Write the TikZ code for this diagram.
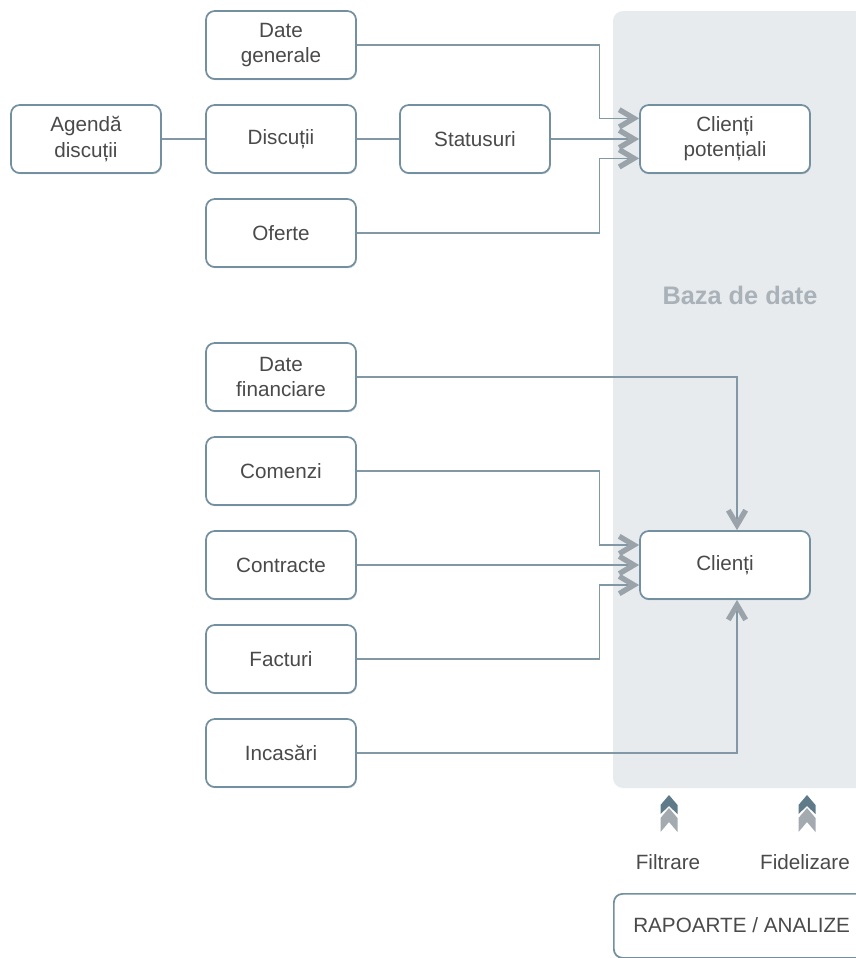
\documentclass[tikz,border=0pt]{standalone}
\usepackage{fontspec}
\setmainfont{Liberation Sans}
\usetikzlibrary{arrows.meta,shadows,calc}
\definecolor{boxc}{HTML}{7290A0}
\definecolor{linec}{HTML}{8298A5}
\definecolor{arrc}{HTML}{9AA3AA}
\definecolor{panelc}{HTML}{E8EBEE}
\definecolor{txtc}{HTML}{4A4A4A}
\definecolor{bazac}{HTML}{A9B2B9}
\definecolor{chevdark}{HTML}{5F7B89}
\definecolor{chevlight}{HTML}{A3ABB1}
\tikzset{
  px/.style={x=0.75pt,y=-0.75pt},
  stepbox/.style={draw=boxc, line width=1.3pt, rounded corners=6.5pt, fill=white,
    minimum width=112.5pt, minimum height=51pt, align=center, inner sep=0pt,
    text=txtc, font=\fontsize{15.5}{19}\selectfont,
    drop shadow={shadow xshift=0.6pt, shadow yshift=-0.9pt, opacity=0.18, fill=black}},
  widebox/.style={stepbox, minimum width=127.5pt},
  conn/.style={draw=linec, line width=0.9pt},
  arr/.style={conn, -{Straight Barb[length=11pt,width=13pt,line width=4pt,color=arrc]}},
  lbl/.style={text=txtc, font=\fontsize{15.5}{19}\selectfont, inner sep=0pt},
}
\begin{document}
\begin{tikzpicture}[px]
\useasboundingbox (0,0) rectangle (856,958);
\clip (0,0) rectangle (856,958);
% database panel
\fill[panelc, rounded corners=7.5pt] (613,11) rectangle (880,788);
\node[font=\bfseries\fontsize{19}{22}\selectfont, text=bazac] (baza) at (740,295) {Baza de date};

% boxes
\node[stepbox] (dg) at (281,45) {Date\\generale};
\node[stepbox] (ag) at (86,139) {Agendă\\discuții};
\node[stepbox] (di) at (281,139) {Discuții};
\node[stepbox] (st) at (475,139) {Statusuri};
\node[stepbox] (of) at (281,233) {Oferte};
\node[widebox] (cp) at (725,139) {Clienți\\potențiali};

\node[stepbox] (df) at (281,377) {Date\\financiare};
\node[stepbox] (co) at (281,471) {Comenzi};
\node[stepbox] (ct) at (281,565) {Contracte};
\node[stepbox] (fa) at (281,659) {Facturi};
\node[stepbox] (in) at (281,753) {Incasări};
\node[widebox] (cl) at (725,565) {Clienți};

% plain links
\draw[conn] (ag) -- (di);
\draw[conn] (di) -- (st);

% into Clienti potentiali
\draw[arr] (dg.east) -| ([xshift=-30pt,yshift=15.5pt]cp.west) -- ([yshift=15.5pt]cp.west);
\draw[arr] (st) -- (cp);
\draw[arr] (of.east) -| ([xshift=-30pt,yshift=-14.5pt]cp.west) -- ([yshift=-14.5pt]cp.west);

% into Clienti
\draw[arr] (df.east) -| ([xshift=9pt]cl.north);
\draw[arr] (co.east) -| ([xshift=-30pt,yshift=15pt]cl.west) -- ([yshift=15pt]cl.west);
\draw[arr] (ct) -- (cl);
\draw[arr] (fa.east) -| ([xshift=-30pt,yshift=-15pt]cl.west) -- ([yshift=-15pt]cl.west);
\draw[arr] (in.east) -| ([xshift=9pt]cl.south);

% double chevrons
\foreach \c in {669,807}{
  \fill[chevlight] (\c,808) -- (\c+8.5,818) -- (\c+8.5,832) -- (\c,822) -- (\c-8.5,832) -- (\c-8.5,818) -- cycle;
  \fill[chevdark] (\c,795) -- (\c+8.5,805) -- (\c+8.5,814) -- (\c,806) -- (\c-8.5,814) -- (\c-8.5,805) -- cycle;
}
\node[lbl] (fi) at (668,862) {Filtrare};
\node[lbl] (fd) at (805,862) {Fidelizare};

% reports box
\node[stepbox, minimum width=195pt, minimum height=48pt, anchor=north west] (rap) at (613,893) {};
\node[lbl, anchor=west] (raptxt) at (633,925) {RAPOARTE / ANALIZE};
\end{tikzpicture}
\end{document}
